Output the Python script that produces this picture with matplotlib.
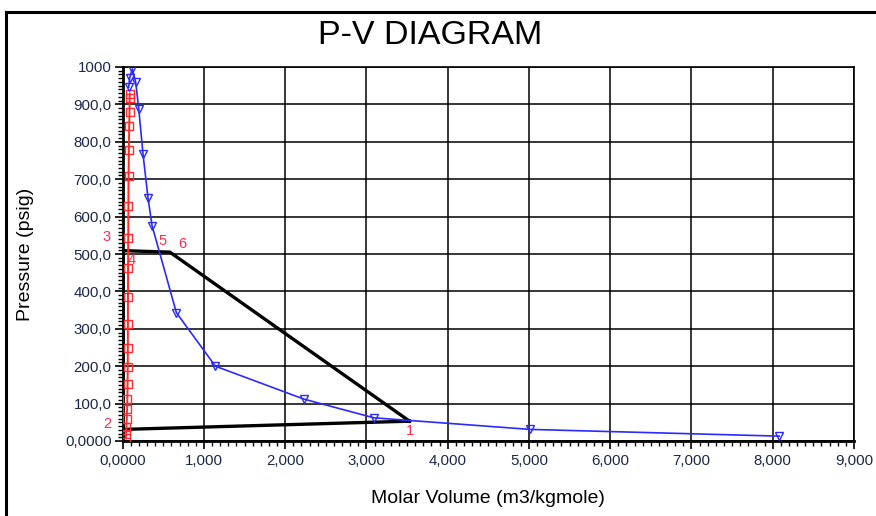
import matplotlib
matplotlib.use("Agg")
import matplotlib.pyplot as plt
from matplotlib.lines import Line2D
from matplotlib.ticker import FixedLocator, FixedFormatter, MultipleLocator

plt.rcParams['font.family'] = ['Liberation Sans', 'DejaVu Sans']

# saturated vapour curve (blue)
vap_v = [74, 86, 119, 160, 197, 250, 312, 361, 661, 1141, 2230, 3091, 5015, 8080]
vap_p = [946, 971, 995, 959, 889, 767, 649, 576, 343, 200, 112, 62, 31, 13]

# saturated liquid curve (red)
liq_v = [40, 42, 45, 50, 54, 57, 60, 62, 63, 64, 65, 66, 68, 70, 72, 76, 80, 84, 86, 88]
liq_p = [7, 18, 38, 58, 85, 112, 152, 199, 250, 313, 386, 462, 543, 628, 708, 777, 841, 881, 918, 929]

# refrigeration cycle: 1 -> 2 -> 3 -> 6 -> 1
cyc_v = [3530, 5, 5, 580, 3530]
cyc_p = [53, 31, 509, 505, 53]

pt_names = ['1', '2', '3', '4', '5', '6']
pt_v = [3536, -193, -193, 114, 496, 730]
pt_p = [27, 45, 545, 484, 535, 527]

x_ticks = [0, 1000, 2000, 3000, 4000, 5000, 6000, 7000, 8000, 9000]
x_labels = ['0,0000', '1,000', '2,000', '3,000', '4,000', '5,000', '6,000', '7,000', '8,000', '9,000']
y_ticks = [0, 100, 200, 300, 400, 500, 600, 700, 800, 900, 1000]
y_labels = ['0,0000', '100,0', '200,0', '300,0', '400,0', '500,0', '600,0', '700,0', '800,0', '900,0', '1000']

W, H = 876, 516
fig = plt.figure(figsize=(W / 100, H / 100), dpi=100)
ax = fig.add_axes([122.7 / W, 1 - 441 / H, (854 - 122.7) / W, (441 - 67) / H])

ax.plot(cyc_v, cyc_p, color='black', lw=2.4, zorder=3, solid_joinstyle='miter')
ax.plot(liq_v, liq_p, color='#ff2a2a', lw=1.4, marker='s', ms=5.5, mfc='none', mew=1.0, zorder=4)
ax.plot(vap_v, vap_p, color='#2a2aff', lw=1.2, marker='v', ms=6, mfc='none', mew=1.0, zorder=4)

for name, v, p in zip(pt_names, pt_v, pt_p):
    ax.text(v, p, name, color='#ff2a50', fontsize=10.5, ha='center', va='center', clip_on=False, zorder=5)

ax.set_xlim(0, 9000)
ax.set_ylim(0, 1000)
ax.xaxis.set_major_locator(FixedLocator(x_ticks))
ax.xaxis.set_major_formatter(FixedFormatter(x_labels))
ax.yaxis.set_major_locator(FixedLocator(y_ticks))
ax.yaxis.set_major_formatter(FixedFormatter(y_labels))
ax.xaxis.set_minor_locator(MultipleLocator(100))
ax.yaxis.set_minor_locator(MultipleLocator(10))
ax.tick_params(which='major', direction='out', length=6, width=1.2, labelsize=10.8, labelcolor='#1c2848', color='black')
ax.tick_params(which='minor', direction='out', length=3.5, width=1.0, color='black')
ax.tick_params(axis='y', which='major', pad=2)
ax.grid(True, which='major', color='black', lw=1.1)
for side in ['left', 'bottom']:
    ax.spines[side].set_linewidth(2.0)
for side in ['right', 'top']:
    ax.spines[side].set_linewidth(1.2)

ax.set_xlabel('Molar Volume (m3/kgmole)', fontsize=14, labelpad=16)
ax.set_ylabel('Pressure (psig)', fontsize=14, labelpad=22)
fig.text(430 / W, 1 - 35 / H, 'P-V DIAGRAM', fontsize=24.5, ha='center', va='center')

# outer chart border
fig.add_artist(Line2D([6 / W, 6 / W], [0, 1 - 12 / H], color='black', lw=2.2, transform=fig.transFigure))
fig.add_artist(Line2D([6 / W, 1], [1 - 12 / H, 1 - 12 / H], color='black', lw=2.2, transform=fig.transFigure))

fig.savefig('out.png', dpi=100)
